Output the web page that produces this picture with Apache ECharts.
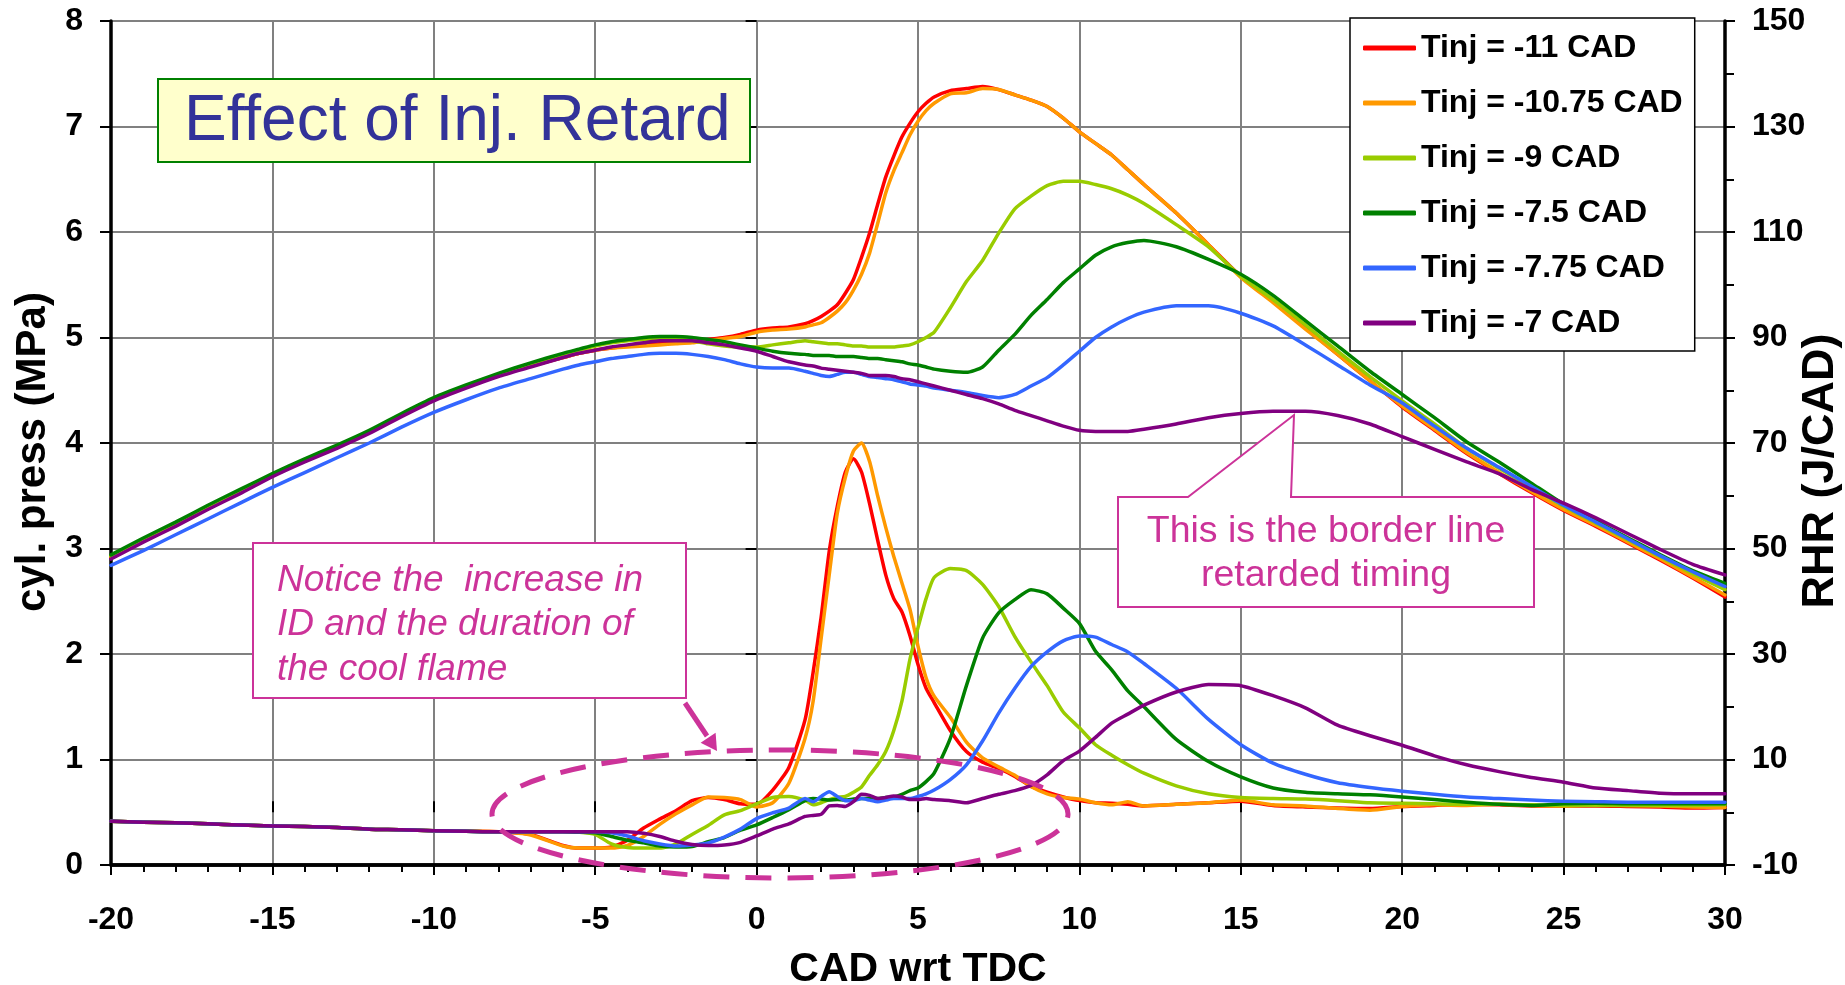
<!DOCTYPE html>
<html><head><meta charset="utf-8">
<script src="https://cdn.jsdelivr.net/npm/echarts@6/dist/echarts.min.js"></script>
<style>html,body{margin:0;padding:0;background:#fff;overflow:hidden}#c{width:1845px;height:985px}</style>
</head><body><div id="c"></div>
<script>
// crank angle sample positions (CAD wrt TDC)
const cad = [
 -20,-19,-18,-17,-16,-15,-14,-13,-12,-11,-10,-9,-8,-7,-6,
 -5.5,-5,-4.5,-4,-3.5,-3,-2.5,-2,-1.5,-1,-0.5,0,0.5,1,1.5,
 1.75,2,2.25,2.5,2.75,3,3.25,3.5,3.75,4,4.25,4.5,4.75,5,5.25,5.5,
 6,6.5,7,7.5,8,8.5,9,9.5,10,10.5,11,11.5,12,
 13,14,15,16,17,18,19,20,21,22,23,24,25,26,27,28,29,30];

// cylinder pressure (MPa)
const pRed = [
 2.92,3.08,3.23,3.39,3.54,3.69,3.83,3.96,4.10,4.26,4.41,4.53,4.64,4.73,4.81,
 4.85,4.88,4.90,4.92,4.93,4.94,4.95,4.96,4.98,5.00,5.03,5.07,5.09,5.10,5.13,
 5.16,5.20,5.25,5.31,5.42,5.55,5.76,5.99,6.26,6.52,6.72,6.90,7.03,7.14,7.22,7.28,
 7.34,7.36,7.38,7.35,7.30,7.25,7.19,7.08,6.95,6.84,6.73,6.59,6.45,
 6.18,5.88,5.58,5.34,5.09,4.84,4.59,4.34,4.12,3.90,3.71,3.53,3.36,3.21,3.05,2.89,2.72,2.54];
const pOrange = [
 2.92,3.08,3.23,3.39,3.54,3.69,3.83,3.96,4.10,4.26,4.41,4.53,4.64,4.73,4.81,
 4.85,4.88,4.90,4.91,4.92,4.93,4.94,4.95,4.97,4.99,5.01,5.05,5.07,5.08,5.10,
 5.12,5.14,5.19,5.25,5.33,5.45,5.60,5.80,6.08,6.37,6.58,6.75,6.92,7.05,7.15,7.22,
 7.31,7.32,7.36,7.35,7.30,7.25,7.19,7.08,6.95,6.84,6.73,6.59,6.45,
 6.18,5.88,5.57,5.33,5.08,4.84,4.59,4.35,4.13,3.91,3.72,3.54,3.37,3.22,3.06,2.90,2.73,2.56];
const pLime = [
 2.93,3.09,3.24,3.40,3.55,3.70,3.84,3.97,4.11,4.27,4.42,4.54,4.65,4.75,4.84,
 4.88,4.92,4.95,4.97,4.98,4.99,4.99,4.97,4.94,4.92,4.91,4.91,4.93,4.95,4.97,
 4.96,4.95,4.94,4.94,4.93,4.92,4.92,4.91,4.91,4.91,4.91,4.92,4.93,4.96,5.00,5.05,
 5.28,5.53,5.73,5.99,6.22,6.34,6.44,6.48,6.48,6.45,6.41,6.35,6.27,
 6.07,5.86,5.58,5.36,5.12,4.87,4.63,4.40,4.18,3.95,3.76,3.58,3.40,3.24,3.08,2.92,2.76,2.61];
const pGreen = [
 2.94,3.10,3.25,3.41,3.56,3.71,3.85,3.98,4.12,4.28,4.43,4.55,4.66,4.76,4.85,
 4.89,4.93,4.96,4.98,5.00,5.01,5.01,5.00,4.98,4.96,4.93,4.90,4.87,4.85,4.84,
 4.83,4.83,4.83,4.82,4.82,4.82,4.81,4.80,4.80,4.79,4.78,4.77,4.75,4.74,4.72,4.70,
 4.68,4.67,4.72,4.88,5.03,5.21,5.36,5.52,5.65,5.78,5.86,5.90,5.92,
 5.86,5.74,5.60,5.40,5.16,4.92,4.68,4.46,4.24,4.01,3.82,3.62,3.42,3.26,3.10,2.94,2.79,2.67];
const pBlue = [
 2.84,2.98,3.13,3.28,3.43,3.58,3.72,3.86,4.00,4.15,4.29,4.41,4.52,4.61,4.70,
 4.74,4.77,4.80,4.82,4.84,4.85,4.85,4.84,4.82,4.79,4.75,4.72,4.71,4.71,4.68,
 4.66,4.64,4.63,4.65,4.67,4.67,4.65,4.63,4.62,4.61,4.60,4.58,4.56,4.55,4.54,4.52,
 4.50,4.48,4.45,4.43,4.46,4.54,4.62,4.74,4.87,5.00,5.10,5.18,5.24,
 5.30,5.30,5.23,5.11,4.93,4.74,4.55,4.38,4.16,3.95,3.77,3.59,3.41,3.25,3.09,2.93,2.78,2.64];
const pPurple = [
 2.90,3.06,3.21,3.37,3.52,3.68,3.82,3.95,4.09,4.25,4.40,4.52,4.63,4.72,4.81,
 4.85,4.88,4.91,4.93,4.95,4.97,4.97,4.97,4.95,4.93,4.90,4.87,4.82,4.77,4.74,
 4.73,4.71,4.70,4.69,4.68,4.67,4.66,4.64,4.64,4.64,4.63,4.61,4.60,4.58,4.56,4.54,
 4.50,4.46,4.42,4.37,4.31,4.26,4.21,4.16,4.12,4.11,4.11,4.11,4.13,
 4.18,4.24,4.28,4.30,4.30,4.26,4.18,4.06,3.94,3.82,3.71,3.56,3.43,3.29,3.14,2.99,2.85,2.75];

// rate of heat release (J/CAD)
const rRed = [
 -1.7,-1.9,-2.0,-2.2,-2.4,-2.6,-2.7,-2.9,-3.2,-3.3,-3.5,-3.6,-3.7,-4.2,-6.3,
 -6.8,-6.8,-6.6,-5.3,-3.0,-1.3,0.3,2.2,2.8,2.4,1.6,1.5,4.2,8.5,17.5,
 26.5,37.0,49.5,58.0,64.5,67.0,64.5,58.5,51.6,45.0,40.5,38.0,33.5,28.0,23.5,20.8,
 15.5,11.5,9.5,8.3,6.8,4.9,3.8,2.9,2.2,1.8,1.7,1.5,1.2,
 1.5,1.8,2.1,1.3,1.0,0.8,0.7,1.1,1.3,1.5,1.4,1.2,1.2,1.2,1.1,1.0,0.8,0.9];
const rOrange = [
 -1.7,-1.9,-2.0,-2.2,-2.4,-2.6,-2.7,-2.9,-3.2,-3.3,-3.5,-3.6,-3.7,-4.3,-6.4,
 -6.8,-6.8,-6.8,-6.3,-4.6,-2.3,-0.3,1.4,2.9,2.8,2.4,1.0,1.8,5.5,14.0,
 21.0,33.0,45.0,56.7,63.5,68.5,70.0,66.5,60.0,54.0,48.5,43.5,38.5,31.5,25.5,22.0,
 18.0,13.3,10.3,8.6,7.0,4.9,3.5,2.8,2.5,1.8,1.4,2.0,1.2,
 1.5,1.8,2.3,1.4,1.2,0.7,0.4,1.1,1.4,1.3,1.5,1.3,1.2,1.4,1.3,1.2,1.0,0.9];
const rLime = [
 -1.7,-1.9,-2.0,-2.2,-2.4,-2.6,-2.7,-2.9,-3.2,-3.3,-3.5,-3.6,-3.7,-3.7,-3.7,
 -3.8,-4.2,-6.0,-6.7,-6.8,-6.8,-6.0,-4.2,-2.5,-0.5,0.3,1.6,2.8,3.0,2.3,
 1.4,1.8,2.4,2.8,3.0,3.8,4.8,7.0,9.0,11.5,15.5,21.0,29.0,35.0,40.5,44.5,
 46.2,45.8,43.2,39.0,33.3,28.5,24.0,19.0,16.0,12.8,10.8,9.0,7.4,
 5.0,3.5,2.8,2.6,2.5,2.2,1.8,1.7,1.6,1.5,1.5,1.4,1.3,1.3,1.3,1.3,1.3,1.4];
const rGreen = [
 -1.7,-1.9,-2.0,-2.2,-2.4,-2.6,-2.7,-2.9,-3.2,-3.3,-3.5,-3.6,-3.7,-3.7,-3.7,
 -3.8,-3.9,-4.6,-5.3,-5.8,-6.4,-6.6,-6.5,-5.6,-4.8,-3.4,-2.4,-1.0,0.5,2.2,
 2.6,2.5,2.3,2.4,2.3,2.5,2.6,2.6,2.6,2.8,2.9,3.4,4.1,4.6,5.8,7.4,
 14.0,24.0,33.0,37.8,40.3,42.2,41.4,38.7,35.8,30.5,27.0,23.0,20.0,
 13.8,9.6,6.7,4.6,3.8,3.5,3.3,2.9,2.4,1.9,1.5,1.3,1.6,1.7,1.6,1.6,1.6,1.6];
const rBlue = [
 -1.7,-1.9,-2.0,-2.2,-2.4,-2.6,-2.7,-2.9,-3.2,-3.3,-3.5,-3.6,-3.7,-3.7,-3.7,
 -3.7,-3.7,-3.9,-4.5,-5.4,-6.0,-6.4,-6.2,-5.8,-4.7,-3.2,-1.2,-0.1,0.8,2.6,
 2.0,3.0,3.9,3.0,2.2,2.2,2.6,2.3,2.0,2.3,2.6,2.6,2.6,3.0,3.5,4.2,
 6.2,9.0,13.5,18.8,23.5,27.6,30.4,32.5,33.4,33.2,31.8,30.4,28.2,
 23.5,17.6,12.8,9.3,7.2,5.6,4.7,4.0,3.4,2.9,2.6,2.3,2.1,2.0,1.9,1.9,1.9,1.9];
const rPurple = [
 -1.7,-1.9,-2.0,-2.2,-2.4,-2.6,-2.7,-2.9,-3.2,-3.3,-3.5,-3.6,-3.7,-3.7,-3.7,
 -3.7,-3.7,-3.7,-3.7,-4.0,-4.6,-5.5,-6.1,-6.3,-6.2,-5.7,-4.5,-3.2,-2.2,-0.8,
 -0.6,-0.4,1.2,1.3,1.1,2.0,3.4,3.2,2.6,2.8,3.1,2.9,2.4,2.4,2.6,2.4,
 2.2,1.8,2.6,3.4,4.1,5.1,7.1,9.8,11.6,14.2,16.9,18.6,20.3,
 22.8,24.2,24.0,22.1,19.8,16.5,14.5,12.7,10.7,9.0,7.7,6.6,5.7,4.6,4.1,3.6,3.5,3.5];

const seriesNames = ['Tinj = -11 CAD','Tinj = -10.75 CAD','Tinj = -9 CAD','Tinj = -7.5 CAD','Tinj = -7.75 CAD','Tinj = -7 CAD'];
const seriesColors = ['#FF0000','#FF9900','#99CC00','#008000','#3366FF','#800080'];
const pressureSets = [pRed,pOrange,pLime,pGreen,pBlue,pPurple];
const rhrSets = [rRed,rOrange,rLime,rGreen,rBlue,rPurple];

const FONT = '"Liberation Sans", Arial, Helvetica, sans-serif';
const PINK = '#CC3399';

[...pressureSets, ...rhrSets].forEach((a, i) => {
  if (a.length !== cad.length) console.error('length mismatch in set ' + i + ': ' + a.length);
});

const series = [];
function addSeries(sets, yIdx) {
  sets.forEach((arr, i) => {
    series.push({
      name: seriesNames[i], type: 'line', xAxisIndex: 0, yAxisIndex: yIdx,
      data: cad.map((c, j) => [c, arr[j]]),
      showSymbol: false, symbol: 'none', smooth: 0.2,
      lineStyle: { color: seriesColors[i], width: 3.5, cap: 'round', join: 'round' },
      itemStyle: { color: seriesColors[i] },
      emphasis: { disabled: true }, z: 2
    });
  });
}
addSeries(pressureSets, 0);
addSeries(rhrSets, 1);

const blackLine = { show: true, lineStyle: { color: '#000', width: 3.5 } };
const tickLbl = { color: '#000', fontSize: 32, fontWeight: 'bold', fontFamily: FONT };

const chart = echarts.init(document.getElementById('c'), null, { renderer: 'canvas' });
chart.setOption({
  animation: false,
  backgroundColor: '#fff',
  grid: { left: 111, right: 120, top: 21, bottom: 120, containLabel: false, outerBoundsMode: 'none' },
  legend: {
    data: seriesNames, orient: 'vertical', left: 1350, top: 18,
    padding: [14, 12, 12, 13], itemGap: 23, itemWidth: 53, itemHeight: 5,
    icon: 'roundRect', backgroundColor: '#fff', borderColor: '#000', borderWidth: 1.5,
    textStyle: { color: '#000', fontSize: 32, fontWeight: 'bold', fontFamily: FONT },
    selectedMode: false, z: 10
  },
  xAxis: [
    {
      type: 'value', position: 'bottom', min: -20, max: 30, interval: 5,
      axisLine: Object.assign({ onZero: false }, blackLine),
      axisTick: { show: true, inside: false, length: 10, lineStyle: { color: '#000', width: 2 } },
      minorTick: { show: true, splitNumber: 5, length: 7, lineStyle: { color: '#000', width: 2 } },
      splitLine: { show: true, lineStyle: { color: '#808080', width: 2 } },
      axisLabel: Object.assign({ margin: 39 }, tickLbl),
      name: 'CAD wrt TDC', nameLocation: 'middle', nameGap: 84,
      nameTextStyle: { color: '#000', fontSize: 41, fontWeight: 'bold', fontFamily: FONT }
    },
    {
      type: 'value', position: 'top', min: -20, max: 30, interval: 5,
      axisLine: blackLine, axisTick: { show: false }, axisLabel: { show: false }, splitLine: { show: false }
    },
    {
      type: 'value', position: 'bottom', min: -20, max: 30, interval: 5,
      axisLine: { show: false },
      axisTick: { show: true, inside: true, length: 11, lineStyle: { color: '#000', width: 2 } },
      axisLabel: { show: false }, splitLine: { show: false }
    }
  ],
  yAxis: [
    {
      type: 'value', position: 'left', min: 0, max: 8, interval: 1,
      axisLine: Object.assign({ onZero: false }, blackLine),
      axisTick: { show: true, inside: false, length: 11, lineStyle: { color: '#000', width: 2 } },
      splitLine: { show: true, lineStyle: { color: '#808080', width: 2 } },
      axisLabel: Object.assign({ margin: 28 }, tickLbl),
      name: 'cyl. press (MPa)', nameLocation: 'middle', nameGap: 55,
      nameTextStyle: { color: '#000', fontSize: 42, fontWeight: 'bold', fontFamily: FONT, padding: [0, 18, 0, 0] }
    },
    {
      type: 'value', position: 'right', min: -10, max: 150, interval: 20,
      axisLine: Object.assign({ onZero: false }, blackLine),
      axisTick: { show: true, inside: false, length: 10, lineStyle: { color: '#000', width: 2 } },
      minorTick: { show: true, splitNumber: 2, length: 9, lineStyle: { color: '#000', width: 2 } },
      splitLine: { show: false },
      axisLabel: Object.assign({ margin: 27 }, tickLbl)
    },
    {
      type: 'value', position: 'right', min: -10, max: 150, interval: 20,
      axisLine: { show: false },
      axisTick: { show: true, inside: true, length: 11, lineStyle: { color: '#000', width: 2 } },
      axisLabel: { show: false }, splitLine: { show: false }
    }
  ],
  series: series,
  graphic: [
    { type: 'text', z: 3, x: 1821, y: 471, rotation: Math.PI / 2,
      style: { text: 'RHR (J/CAD)', x: 0, y: 0, font: 'bold 45px ' + FONT, fill: '#000',
        align: 'center', textAlign: 'center', verticalAlign: 'middle', textVerticalAlign: 'middle' } },
    { type: 'rect', z: 1, shape: { x: 158, y: 79, width: 592, height: 83 },
      style: { fill: '#FFFFCC', stroke: '#008000', lineWidth: 2 } },
    { type: 'text', z: 3, style: { text: 'Effect of Inj. Retard', x: 184, y: 122,
      font: '64px ' + FONT, fill: '#333399', verticalAlign: 'middle', textVerticalAlign: 'middle' } },
    { type: 'rect', z: 1, shape: { x: 253, y: 543, width: 433, height: 155 },
      style: { fill: '#fff', stroke: PINK, lineWidth: 2 } },
    { type: 'text', z: 3, style: { text: 'Notice the  increase in\nID and the duration of\nthe cool flame',
      x: 277, y: 558, font: 'italic 37px ' + FONT, fill: PINK, lineHeight: 44.5,
      verticalAlign: 'top', textVerticalAlign: 'top' } },
    { type: 'polygon', z: 1, shape: { points: [[1118,497],[1188,497],[1294,415],[1291,497],[1534,497],[1534,607],[1118,607]] },
      style: { fill: '#fff', stroke: PINK, lineWidth: 2 } },
    { type: 'text', z: 3, style: { text: 'This is the border line\nretarded timing', x: 1326, y: 510,
      font: '37.5px ' + FONT, fill: PINK, lineHeight: 44, align: 'center', textAlign: 'center',
      verticalAlign: 'top', textVerticalAlign: 'top' } },
    { type: 'line', z: 5, shape: { x1: 685, y1: 703, x2: 707, y2: 736 },
      style: { stroke: PINK, lineWidth: 5 } },
    { type: 'polygon', z: 5, shape: { points: [[717,751],[700.6,742.7],[715.6,732.7]] },
      style: { fill: PINK } },
    { type: 'ellipse', z: 5, shape: { cx: 780, cy: 814, rx: 288, ry: 64 },
      style: { fill: 'none', stroke: PINK, lineWidth: 5, lineDash: [26, 16] } }
  ]
});
</script></body></html>
